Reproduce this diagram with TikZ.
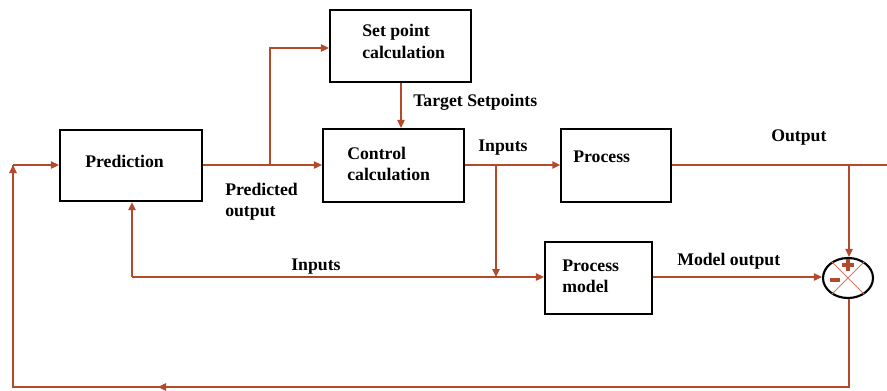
\documentclass[tikz,border=0pt]{standalone}
\usepackage{fontspec}
\setmainfont{Liberation Serif}
\usetikzlibrary{arrows.meta,shapes.geometric}
\definecolor{wire}{RGB}{180,74,44}
\definecolor{xline}{RGB}{214,120,100}
\tikzset{
  blk/.style={draw=black,line width=1.6pt,inner sep=0pt},
  conn/.style={draw=wire,line width=1.1pt},
  arr/.style={conn,-{Triangle[length=6pt,width=5.5pt]}},
  lbl/.style={font=\fontsize{13.3}{15}\selectfont\bfseries,inner sep=0pt,anchor=base west},
}
\begin{document}
\begin{tikzpicture}[x=0.75pt,y=-0.75pt]
\useasboundingbox (0,0) rectangle (887,390);

% blocks
\node[blk,minimum width=106.5pt,minimum height=53.5pt] (pred) at (131,165.5) {};
\node[blk,minimum width=105.75pt,minimum height=54pt] (setp) at (400.5,46) {};
\node[blk,minimum width=105.75pt,minimum height=54.75pt] (ctrl) at (393.5,165.5) {};
\node[blk,minimum width=82pt,minimum height=54.75pt] (proc) at (616,165.5) {};
\node[blk,minimum width=80.25pt,minimum height=54pt] (pm) at (598.5,278) {};
\node[draw=black,line width=1.6pt,ellipse,minimum width=37.5pt,minimum height=30pt,inner sep=0pt] (sum) at (848,278) {};

% block texts
\node[lbl] (tpred) at (85,167) {Prediction};
\node[lbl] (tsp1) at (362,36) {Set point};
\node[lbl] (tsp2) at (362,58) {calculation};
\node[lbl] (tc1) at (347,159) {Control};
\node[lbl] (tc2) at (347,180) {calculation};
\node[lbl] (tproc) at (573,162) {Process};
\node[lbl] (tpm1) at (562,271) {Process};
\node[lbl] (tpm2) at (562,292) {model};

% signal labels
\node[lbl] (lpo1) at (225,195) {Predicted};
\node[lbl] (lpo2) at (225,216) {output};
\node[lbl] (lts) at (413,106) {Target Setpoints};
\node[lbl] (lin1) at (478,151) {Inputs};
\node[lbl] (lout) at (771,141) {Output};
\node[lbl] (lin2) at (291,270) {Inputs};
\node[lbl] (lmo) at (677,265) {Model output};

% summing junction marks
\draw[xline,line width=0.6pt] (sum.center) -- (sum.45) (sum.center) -- (sum.135)
  (sum.center) -- (sum.-45) (sum.center) -- (sum.-135);
\draw[wire,line width=2.8pt] (842,265) -- (854,265) (848,259) -- (848,271);
\draw[wire,line width=2.8pt] (830,280) -- (840,280);

% junction points
\coordinate (jp) at (270,165);
\coordinate (jin) at (496,165);
\coordinate (jin2) at (496,277);
\coordinate (jleft) at (132,277);
\coordinate (jout) at (849,165);
\coordinate (outend) at (887,165);
\coordinate (br) at (849,387);
\coordinate (bl) at (13,387);
\coordinate (tl) at (13,165);
\coordinate (bm) at (158,387);

% connectors
\draw[arr] (pred.east |- jp) -- (ctrl.west |- jp);
\draw[arr] (jp) |- (setp.west |- 0,48);
\draw[arr] (setp.south -| 401,0) -- (ctrl.north -| 401,0);
\draw[arr] (ctrl.east |- jin) -- (proc.west |- jin);
\draw[arr] (jin) -- (jin2);
\draw[arr] (jleft) -- (pm.west |- jleft);
\draw[arr] (jleft) -- (pred.south -| jleft);
\draw[conn] (proc.east |- jout) -- (outend);
\draw[arr] (jout) -- (sum.north -| jout);
\draw[arr] (pm.east |- 0,277) -- (sum.west |- 0,277);
\draw[conn] (sum.south -| br) -- (br) -- (bl) -- (tl);
\draw[arr] (br) -- (bm);
\draw[arr] (13,230) -- (tl);
\draw[arr] (tl) -- (pred.west |- tl);
\end{tikzpicture}
\end{document}
